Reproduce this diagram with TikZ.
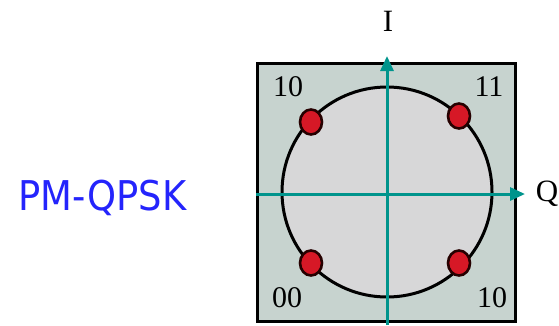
\documentclass[tikz,border=0pt]{standalone}
\usepackage{fontspec}
\setmainfont{Liberation Serif}
\newfontfamily\titlesans{DejaVu Sans Condensed}
\usetikzlibrary{arrows.meta,shapes.geometric}
\definecolor{panelgray}{RGB}{199,211,207}
\definecolor{discgray}{RGB}{215,215,216}
\definecolor{axisteal}{RGB}{0,148,140}
\definecolor{symbolred}{RGB}{214,24,38}
\definecolor{titleblue}{RGB}{36,36,252}

\begin{document}
\begin{tikzpicture}[x=1pt,y=-1pt,
  symbol/.style={ellipse, draw=black!85!red, line width=2.6pt, fill=symbolred, minimum width=22pt, minimum height=25pt, inner sep=0pt},
  bits/.style={font=\fontsize{30}{30}\selectfont},
  axislabel/.style={font=\fontsize{31}{31}\selectfont},
  axis/.style={draw=axisteal, line width=3pt, -{Triangle[length=15pt,width=13pt]}}
]
\useasboundingbox (0,0) rectangle (559,325);

\node[titleblue, anchor=base west, font=\titlesans\fontsize{41}{41}\selectfont] (title) at (15,210) {PM-QPSK};

\node[draw, line width=3pt, fill=panelgray, minimum size=258pt, inner sep=0pt] (panel) at (386.5,192.5) {};
\node[circle, draw, line width=3pt, fill=discgray, minimum size=210pt, inner sep=0pt] (disc) at (387,192) {};

\coordinate (Qtail) at (256,194);
\coordinate (Qtip) at (525,194);
\coordinate (Itail) at (387,325);
\coordinate (Itip) at (387,56);
\draw[axis] (Qtail) -- (Qtip);
\draw[axis] (Itail) -- (Itip);

\node[axislabel] (Ilabel) at (388,21) {I};
\node[axislabel] (Qlabel) at (547,194) {Q};

\node[symbol] (s10a) at (311,122) {};
\node[symbol] (s11) at (459,116) {};
\node[symbol] (s00) at (311,263) {};
\node[symbol] (s10b) at (459,263) {};

\node[bits] (b10a) at (288,87) {10};
\node[bits] (b11) at (489,87) {11};
\node[bits] (b00) at (287,298) {00};
\node[bits] (b10b) at (492,298) {10};
\end{tikzpicture}
\end{document}
